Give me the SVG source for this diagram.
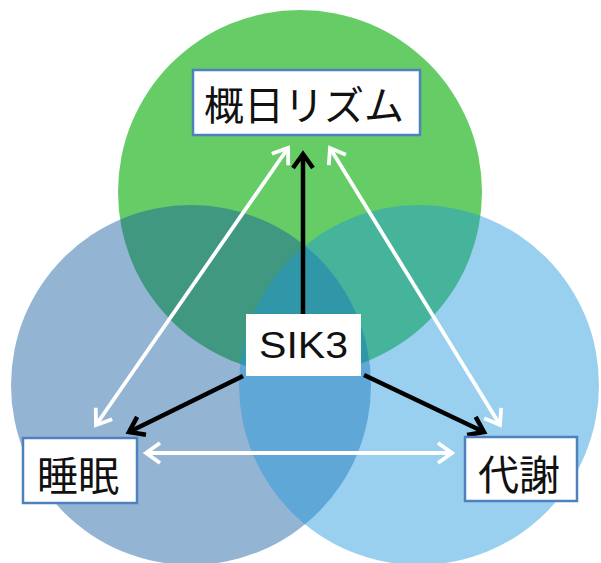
<svg xmlns="http://www.w3.org/2000/svg" width="601" height="563" viewBox="0 0 601 563">
  <style>
    .box { fill: #ffffff; stroke: #4f81bd; stroke-width: 2.5; }
    .plain { fill: #ffffff; stroke: none; }
    .jp { font-family: "Noto Sans CJK JP", "Noto Sans", sans-serif; font-size: 40px; fill: #111111; text-anchor: middle; dominant-baseline: central; }
    .en { font-family: "Liberation Sans", Arial, sans-serif; font-size: 37px; fill: #111111; text-anchor: middle; }
    .blk { stroke: #000000; stroke-width: 4.5; fill: none; }
    .wht { stroke: #ffffff; stroke-width: 3.8; fill: none; }
  </style>
  <defs>
    <marker id="headB" markerUnits="userSpaceOnUse" viewBox="-18 -13 22 26" refX="0" refY="0" markerWidth="22" markerHeight="26" orient="auto-start-reverse">
      <path d="M-14,-10 L0,0 L-14,10" fill="none" stroke="#000000" stroke-width="4.5" stroke-linejoin="miter"/>
    </marker>
    <marker id="headW" markerUnits="userSpaceOnUse" viewBox="-18 -13 22 26" refX="0" refY="0" markerWidth="22" markerHeight="26" orient="auto-start-reverse">
      <path d="M-14,-10 L0,0 L-14,10" fill="none" stroke="#ffffff" stroke-width="3.8" stroke-linejoin="miter"/>
    </marker>
  </defs>

  <g id="venn">
    <circle id="circle-rhythm" cx="300" cy="192" r="182" fill="#66cc66"/>
    <circle id="circle-sleep" cx="191" cy="385" r="180" fill="#12599f" fill-opacity="0.45"/>
    <circle id="circle-metabolism" cx="419" cy="385" r="180" fill="#1d97dc" fill-opacity="0.45"/>
  </g>

  <g id="connectors">
    <line class="blk" x1="303" y1="315" x2="303" y2="154" marker-end="url(#headB)"/>
    <line class="blk" x1="243" y1="376" x2="129" y2="432" marker-end="url(#headB)"/>
    <line class="blk" x1="364" y1="375" x2="484" y2="432" marker-end="url(#headB)"/>
    <line class="wht" x1="96" y1="425" x2="288" y2="148" marker-start="url(#headW)" marker-end="url(#headW)"/>
    <line class="wht" x1="500" y1="425" x2="330" y2="148" marker-start="url(#headW)" marker-end="url(#headW)"/>
    <line class="wht" x1="146" y1="453" x2="452" y2="453" marker-start="url(#headW)" marker-end="url(#headW)"/>
  </g>

  <g id="node-rhythm">
    <rect class="box" x="193" y="70" width="227" height="65"/>
    <text class="jp" x="304" y="103">概日リズム</text>
  </g>

  <g id="node-sik3">
    <rect class="plain" x="246" y="314" width="115" height="62"/>
    <text class="en" x="303.5" y="358" textLength="89" lengthAdjust="spacingAndGlyphs">SIK3</text>
  </g>

  <g id="node-sleep">
    <rect class="box" x="23" y="438" width="114" height="65"/>
    <text class="jp" x="78" y="473" style="font-size:41px">睡眠</text>
  </g>

  <g id="node-metabolism">
    <rect class="box" x="465" y="437" width="112" height="64"/>
    <text class="jp" x="519" y="472" style="font-size:41px">代謝</text>
  </g>
</svg>
